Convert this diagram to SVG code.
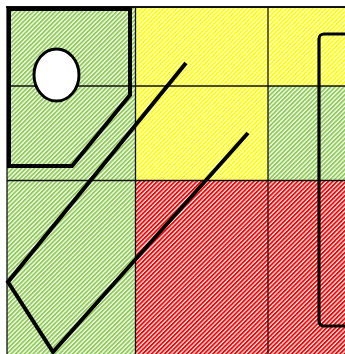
<svg xmlns="http://www.w3.org/2000/svg" width="345" height="354" viewBox="0 0 345 354">
<style>
.grid{stroke:#111;stroke-width:1.3;fill:none}
.thick{stroke:#000;stroke-width:4;fill:none;stroke-linejoin:miter}
</style>
<defs>
<pattern id="hg" patternUnits="userSpaceOnUse" width="3.1" height="10" patternTransform="rotate(45)"><rect width="3.1" height="10" fill="#fff"/><rect width="1.85" height="10" fill="#8fcc55"/></pattern>
<pattern id="hy" patternUnits="userSpaceOnUse" width="3.1" height="10" patternTransform="rotate(45)"><rect width="3.1" height="10" fill="#fff"/><rect width="1.85" height="10" fill="#ffff00"/></pattern>
<pattern id="hr" patternUnits="userSpaceOnUse" width="3.1" height="10" patternTransform="rotate(45)"><rect width="3.1" height="10" fill="#fff"/><rect width="1.85" height="10" fill="#ff0000"/></pattern>
</defs>
<rect width="345" height="354" fill="#fff"/>
<g id="cells">
<rect x="7" y="7" width="128.5" height="79" fill="url(#hg)"/>
<rect x="135.5" y="7" width="132.5" height="79" fill="url(#hy)"/>
<rect x="268" y="7" width="77" height="79" fill="url(#hy)"/>
<rect x="7" y="86" width="128.5" height="94.5" fill="url(#hg)"/>
<rect x="135.5" y="86" width="132.5" height="94.5" fill="url(#hy)"/>
<rect x="268" y="86" width="77" height="94.5" fill="url(#hg)"/>
<rect x="7" y="180.5" width="128.5" height="174" fill="url(#hg)"/>
<rect x="135.5" y="180.5" width="132.5" height="174" fill="url(#hr)"/>
<rect x="268" y="180.5" width="77" height="174" fill="url(#hr)"/>
</g>
<g id="gridlines">
<line class="grid" x1="6" y1="7" x2="345" y2="7" style="stroke-width:2"/>
<line class="grid" x1="7" y1="7" x2="7" y2="354"/>
<line class="grid" x1="135.5" y1="7" x2="135.5" y2="354"/>
<line class="grid" x1="268" y1="7" x2="268" y2="354"/>
<line class="grid" x1="7" y1="86" x2="345" y2="86"/>
<line class="grid" x1="7" y1="180.5" x2="345" y2="180.5"/>
</g>
<g id="pentagon">
<polygon class="thick" points="9,9 130,9 130,95 72,166 9,166"/>
</g>
<g id="circle">
<ellipse cx="56.5" cy="75" rx="22.5" ry="26" fill="#fff" stroke="#000" stroke-width="3"/>
</g>
<g id="rounded-rect">
<rect class="thick" x="319" y="34" width="40" height="292" rx="5" style="stroke-width:3.2"/>
</g>
<g id="connectors">
<polyline class="thick" points="186,63 8,282 53,352 248,133"/>
</g>
</svg>
